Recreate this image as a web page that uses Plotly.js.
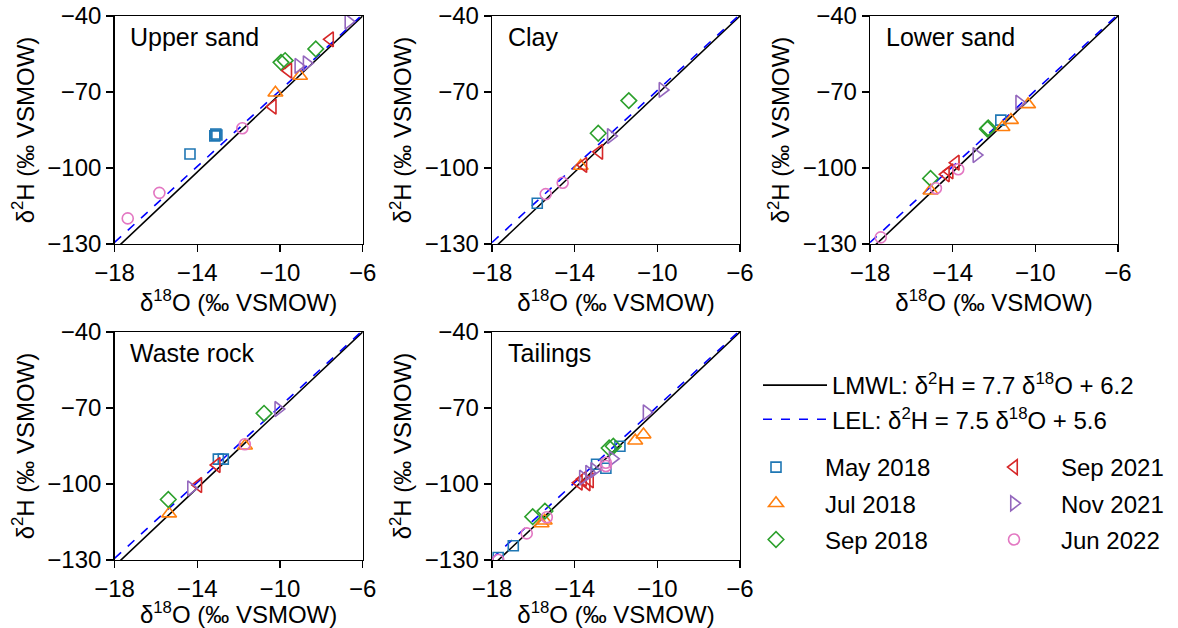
<!DOCTYPE html>
<html>
<head>
<meta charset="utf-8">
<script src="https://cdn.plot.ly/plotly-3.0.1.min.js"></script>
<style>html,body{margin:0;padding:0;background:#fff;}#chart{width:1178px;height:628px;}</style>
</head>
<body>
<div id="chart"></div>
<script>
// ---- Data ----
const panelNames = ["Upper sand", "Clay", "Lower sand", "Waste rock", "Tailings"];
const seriesNames = ["May 2018", "Jul 2018", "Sep 2018", "Sep 2021", "Nov 2021", "Jun 2022"];
const xTicks = [-18, -14, -10, -6];
const yTicks = [-130, -100, -70, -40];

// Local meteoric water line and local evaporation line: [slope, intercept]
const lmwl = [7.7, 6.2];
const lel = [7.5, 5.6];
const lineX = [-18, -6];

// [series, δ18O, δ2H]
const upperSand = [
  ["May 2018", -14.35, -94.5], ["May 2018", -13.15, -87.3], ["May 2018", -13.1, -86.6], ["May 2018", -13.05, -87.0],
  ["Jul 2018", -10.22, -70.3], ["Jul 2018", -9.03, -63.7],
  ["Sep 2018", -9.95, -58.3], ["Sep 2018", -9.75, -57.6], ["Sep 2018", -8.27, -53.0],
  ["Sep 2021", -10.35, -75.8], ["Sep 2021", -9.6, -61.6], ["Sep 2021", -7.58, -49.2],
  ["Nov 2021", -9.11, -59.7], ["Nov 2021", -8.71, -58.7], ["Nov 2021", -6.69, -42.2],
  ["Jun 2022", -17.36, -119.9], ["Jun 2022", -15.83, -109.8], ["Jun 2022", -11.82, -84.3]
];
const clay = [
  ["May 2018", -15.81, -113.9],
  ["Jul 2018", -13.71, -99.2],
  ["Sep 2018", -12.86, -86.3], ["Sep 2018", -11.38, -73.4],
  ["Sep 2021", -13.58, -98.8], ["Sep 2021", -12.81, -93.6],
  ["Nov 2021", -12.25, -87.4], ["Nov 2021", -9.75, -69.2],
  ["Jun 2022", -15.4, -110.3], ["Jun 2022", -14.58, -105.8]
];
const lowerSand = [
  ["May 2018", -11.67, -81.1],
  ["Jul 2018", -15.07, -109.0], ["Jul 2018", -11.59, -83.9], ["Jul 2018", -11.18, -81.1], ["Jul 2018", -10.35, -74.9],
  ["Sep 2018", -15.07, -104.1], ["Sep 2018", -12.32, -84.6], ["Sep 2018", -12.28, -84.2],
  ["Sep 2021", -14.33, -102.5], ["Sep 2021", -14.15, -101.3], ["Sep 2021", -13.85, -97.9],
  ["Nov 2021", -12.85, -94.9], ["Nov 2021", -10.78, -74.2],
  ["Jun 2022", -17.48, -127.4], ["Jun 2022", -14.81, -108.0], ["Jun 2022", -13.73, -100.5]
];
const wasteRock = [
  ["May 2018", -12.98, -90.2], ["May 2018", -12.74, -90.2],
  ["Jul 2018", -15.36, -111.7], ["Jul 2018", -11.69, -84.9],
  ["Sep 2018", -15.4, -106.1], ["Sep 2018", -10.77, -72.1],
  ["Sep 2021", -13.95, -100.4], ["Sep 2021", -13.06, -92.5],
  ["Nov 2021", -14.3, -101.7], ["Nov 2021", -10.08, -70.4],
  ["Jun 2022", -11.7, -84.3]
];
const tailings = [
  ["May 2018", -17.7, -129.0], ["May 2018", -16.97, -124.4], ["May 2018", -12.94, -92.2], ["May 2018", -12.49, -93.8], ["May 2018", -11.81, -85.1],
  ["Jul 2018", -15.6, -115.6], ["Jul 2018", -15.45, -114.5], ["Jul 2018", -11.07, -82.9], ["Jul 2018", -10.67, -80.5],
  ["Sep 2018", -16.03, -112.9], ["Sep 2018", -15.44, -110.7], ["Sep 2018", -12.33, -85.8], ["Sep 2018", -12.13, -85.1],
  ["Sep 2021", -13.8, -99.5], ["Sep 2021", -13.42, -99.7], ["Sep 2021", -13.26, -98.6], ["Sep 2021", -13.6, -98.0],
  ["Nov 2021", -13.6, -97.5], ["Nov 2021", -13.3, -95.6], ["Nov 2021", -13.05, -94.5], ["Nov 2021", -12.16, -90.0], ["Nov 2021", -10.52, -71.7],
  ["Jun 2022", -17.7, -130.0], ["Jun 2022", -16.32, -119.5], ["Jun 2022", -15.35, -113.1], ["Jun 2022", -12.49, -91.6], ["Jun 2022", -12.49, -92.9]
];
const panelData = [upperSand, clay, lowerSand, wasteRock, tailings];

// ---- Styles ----
const seriesColors = ["#1f77b4", "#ff7f0e", "#2ca02c", "#d62728", "#9467bd", "#e377c2"];
const seriesSymbols = ["square-open", "triangle-up-open", "diamond-open", "triangle-left-open", "triangle-right-open", "circle-open"];
const seriesSizes = [10, 13, 12, 13, 13, 11];
const FONT = "Liberation Sans, Arial, Helvetica, sans-serif";
const FS = 24;

const W = 1178, H = 628;
// panel pixel boxes [left, right, top, bottom]
const boxes = [
  [114.5, 362.7, 16, 244], [492, 740, 16, 244], [870, 1118, 16, 244],
  [114.5, 362.7, 332, 560], [492, 740, 332, 560]
];

const traces = [];
const layout = {
  width: W, height: H,
  margin: {l: 0, r: 0, t: 0, b: 0},
  paper_bgcolor: "#fff", plot_bgcolor: "#fff",
  font: {family: FONT, size: FS, color: "#000"},
  showlegend: true,
  annotations: [],
  legend: {x: 758 / W, y: 1 - 363 / H, xanchor: "left", yanchor: "top", bgcolor: "rgba(0,0,0,0)",
           font: {size: FS}, itemwidth: 64, tracegroupgap: 0},
  legend2: {x: 727 / W, y: 1 - 445 / H, xanchor: "left", yanchor: "top", bgcolor: "rgba(0,0,0,0)",
            font: {size: FS}, itemwidth: 88, tracegroupgap: 2},
  legend3: {x: 967 / W, y: 1 - 445 / H, xanchor: "left", yanchor: "top", bgcolor: "rgba(0,0,0,0)",
            font: {size: FS}, itemwidth: 84, tracegroupgap: 2}
};

panelNames.forEach((name, i) => {
  const n = i + 1;
  const xa = "x" + (n === 1 ? "" : n), ya = "y" + (n === 1 ? "" : n);
  const xk = "xaxis" + (n === 1 ? "" : n), yk = "yaxis" + (n === 1 ? "" : n);
  const b = boxes[i];
  const axCommon = {
    showline: true, linecolor: "#000", linewidth: 1.3, mirror: true,
    ticks: "outside", ticklen: 7, tickwidth: 1.3, tickcolor: "#000",
    showgrid: false, zeroline: false, automargin: false,
    tickfont: {family: FONT, size: FS, color: "#000"}
  };
  layout[xk] = Object.assign({}, axCommon, {
    domain: [b[0] / W, b[1] / W], anchor: ya, range: [-18, -6],
    tickvals: xTicks, ticktext: xTicks.map(v => "\u2212" + Math.abs(v)),
    title: {text: "δ<sup>18</sup>O (‰ VSMOW)", font: {family: FONT, size: FS}, standoff: 2}
  });
  layout[yk] = Object.assign({}, axCommon, {
    domain: [1 - b[3] / H, 1 - b[2] / H], anchor: xa, range: [-130, -40],
    tickvals: yTicks, ticktext: yTicks.map(v => "\u2212" + Math.abs(v)),
    title: {text: "δ<sup>2</sup>H (‰ VSMOW)", font: {family: FONT, size: FS}, standoff: 6}
  });
  layout.annotations.push({
    xref: xa + " domain", yref: ya + " domain", x: 0.055, y: 0.91,
    xanchor: "left", yanchor: "middle", showarrow: false,
    text: name, font: {family: FONT, size: 25, color: "#000"}
  });

  traces.push({
    type: "scatter", mode: "lines", x: lineX, y: lineX.map(v => lmwl[0] * v + lmwl[1]),
    xaxis: xa, yaxis: ya, line: {color: "#000", width: 1.6},
    name: "LMWL: δ<sup>2</sup>H = 7.7 δ<sup>18</sup>O + 6.2", legend: "legend",
    legendgroup: "lmwl", showlegend: i === 0, hoverinfo: "skip"
  });
  traces.push({
    type: "scatter", mode: "lines", x: lineX, y: lineX.map(v => lel[0] * v + lel[1]),
    xaxis: xa, yaxis: ya, line: {color: "#0000ff", width: 1.6, dash: "dash"},
    name: "LEL: δ<sup>2</sup>H = 7.5 δ<sup>18</sup>O + 5.6", legend: "legend",
    legendgroup: "lel", showlegend: i === 0, hoverinfo: "skip"
  });

  seriesNames.forEach((s, k) => {
    const pts = panelData[i].filter(p => p[0] === s);
    traces.push({
      type: "scatter", mode: "markers",
      x: pts.map(p => p[1]), y: pts.map(p => p[2]),
      xaxis: xa, yaxis: ya, name: s,
      legend: k < 3 ? "legend2" : "legend3",
      legendgroup: s, showlegend: i === 0,
      marker: {symbol: seriesSymbols[k], color: seriesColors[k], size: seriesSizes[k], line: {width: 1.6, color: seriesColors[k]}}
    });
  });
});

Plotly.newPlot("chart", traces, layout, {staticPlot: true, displayModeBar: false});
</script>
</body>
</html>
